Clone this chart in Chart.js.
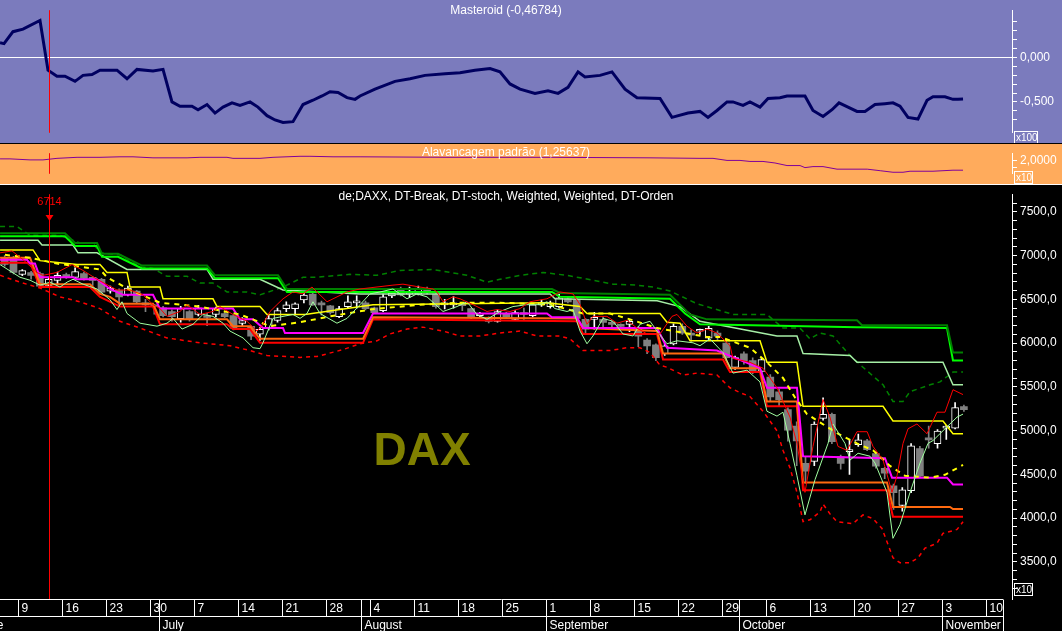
<!DOCTYPE html>
<html>
<head>
<meta charset="utf-8">
<script src="https://cdn.jsdelivr.net/npm/chart.js@4/dist/chart.umd.min.js"></script>
<style>
html, body { margin: 0; padding: 0; background: #000; }
#wrap { position: relative; width: 1062px; height: 631px; overflow: hidden; }
canvas { position: absolute; left: 0; }
</style>
</head>
<body>
<div id="wrap">
  <canvas id="topChart" width="1062" height="143" style="top:0"></canvas>
  <canvas id="levChart" width="1062" height="41" style="top:143px"></canvas>
  <canvas id="mainChart" width="1062" height="447" style="top:184px"></canvas>
</div>
<script>
// trading day index, 0 = Mon 9 June 2008
var firstDay = -2;
var opens  = [6970,6974,6784,6806,6795,6660,6717,6784,6750,6795,6750,6728,6594,6605,6549,6594,6460,6437,6404,6359,6280,6359,6326,6314,6326,6337,6314,6225,6191,6102,6169,6258,6393,6393,6494,6560,6460,6426,6303,6415,6460,6460,6404,6370,6538,6605,6560,6560,6605,6560,6437,6437,6437,6393,6314,6292,6247,6337,6270,6348,6314,6437,6415,6415,6505,6494,6270,6270,6270,6225,6214,6214,6158,6035,5979,5878,5990,6191,6100,6135,6057,6113,6001,5722,5878,5800,5677,5610,5442,5240,5050,4625,4648,5140,5185,4703,4759,4838,4883,4737,4569,4368,4144,4312,4793,4905,4849,5028,5028,5274];
var highs  = [7000,6990,6840,6820,6810,6750,6810,6800,6860,6810,6760,6740,6650,6620,6650,6600,6500,6440,6420,6380,6420,6370,6430,6340,6410,6350,6330,6290,6200,6180,6320,6400,6470,6460,6580,6570,6480,6430,6420,6540,6540,6480,6410,6560,6590,6640,6640,6650,6640,6580,6500,6530,6440,6400,6350,6300,6380,6350,6370,6400,6450,6490,6480,6560,6530,6510,6280,6350,6300,6250,6220,6270,6190,6050,5990,5990,6220,6220,6150,6160,6190,6140,6020,5850,5900,5830,5830,5640,5470,5260,5100,4700,5100,5375,5200,4720,4900,4960,4900,4750,4580,4390,4350,4850,4820,5050,5010,5060,5320,5290];
var lows   = [6880,6790,6770,6730,6640,6640,6670,6740,6730,6720,6660,6570,6570,6430,6540,6460,6360,6330,6300,6250,6240,6250,6310,6200,6300,6290,6150,6200,6040,6030,6150,6240,6360,6330,6460,6430,6320,6330,6290,6400,6400,6380,6340,6360,6520,6540,6520,6550,6560,6400,6390,6400,6370,6280,6300,6230,6240,6290,6260,6270,6300,6420,6400,6400,6460,6270,6120,6160,6180,6180,6170,6130,5960,5880,5800,5860,5980,6100,6020,6100,6040,6040,5800,5700,5760,5650,5640,5340,5280,4880,4600,4400,4600,5120,4850,4560,4500,4820,4770,4570,4450,4100,4080,4290,4460,4800,4800,4900,5020,5220];
var closes = [6900,6806,6828,6773,6650,6728,6773,6750,6817,6739,6717,6583,6627,6527,6627,6471,6437,6415,6314,6303,6393,6270,6404,6292,6393,6303,6169,6258,6079,6158,6281,6370,6437,6448,6549,6437,6437,6348,6393,6471,6471,6393,6348,6527,6571,6549,6583,6627,6594,6415,6460,6448,6426,6292,6337,6247,6359,6303,6348,6326,6437,6460,6460,6516,6471,6281,6158,6281,6236,6214,6191,6247,6079,5968,5834,5968,6191,6113,6090,6140,6169,6079,5834,5834,5800,5677,5811,5386,5352,5005,4883,4535,5073,5185,4872,4625,4782,4894,4782,4592,4513,4290,4323,4827,4480,4894,4994,5050,5262,5240];

// week ticks (Mondays) and month starts
var weekDays = [9,16,23,30,7,14,21,28,4,11,18,25,1,8,15,22,29,6,13,20,27,3,10];
var weekIdx  = [0,5,10,15,20,25,30,35,40,45,50,55,60,65,70,75,80,85,90,95,100,105,110];
var monthNames = ['June','July','August','September','October','November'];
var monthIdx   = [-5,16,39,60,82,105];

var markerDay = 3;
var markerValue = 6714;

// indicator lines [day, value]
var dkGreen = [[-2.53,7254],[4.85,7254],[5.99,7143],[8.49,7143],[9.06,7020],[10.88,7020],[13.6,6886],[20.99,6886],[21.9,6774],[29.06,6774],[30.08,6618],[60.19,6618],[61.1,6573],[73.6,6551],[75.88,6327],[77.81,6271],[94.85,6260],[95.42,6204],[105.08,6204],[105.76,5892],[106.9,5892]];
var brGreen = [[-2.53,7221],[4.85,7221],[5.99,7109],[8.49,7109],[9.06,6986],[10.88,6986],[13.6,6852],[20.99,6852],[21.9,6740],[29.06,6740],[30.08,6584],[60.19,6584],[61.1,6528],[73.6,6506],[75.31,6338],[77.01,6215],[94.85,6182],[105.08,6171],[105.76,5802],[106.9,5802]];
var paleStep = [[-2.53,7176],[1.78,7176],[2.24,7120],[5.76,7120],[6.33,7031],[8.49,7031],[11.9,6841],[20.99,6841],[21.67,6729],[27.01,6729],[29.63,6606],[38.38,6562],[59.97,6562],[60.53,6506],[72.13,6484],[74.74,6417],[77.01,6249],[85.76,6081],[88.03,6081],[88.72,5880],[94.06,5858],[94.85,5780],[104.62,5780],[105.76,5523],[106.9,5523]];
var yellowLine = [[-2.53,7064],[1.22,7064],[2.01,6942],[6.22,6897],[8.83,6897],[9.63,6807],[11.9,6807],[12.24,6640],[15.65,6640],[15.99,6506],[21.67,6506],[22.13,6417],[27.01,6417],[27.81,6327],[32.13,6327],[39.85,6439],[59.62,6461],[63.38,6417],[64.17,6338],[72.47,6338],[73.26,6238],[74.74,6227],[75.88,6026],[83.83,6026],[84.62,5780],[88.03,5780],[88.72,5277],[97.81,5277],[98.94,5110],[104.62,5110],[105.76,4964],[106.9,4964]];
var yellowDash = [[-1.97,7008],[0.88,6975],[3.94,6908],[8.83,6841],[9.63,6752],[12.24,6606],[15.65,6461],[20.19,6417],[24.74,6327],[28.15,6193],[31.56,6238],[34.97,6305],[39.51,6383],[45.19,6439],[49.74,6461],[54.28,6461],[59.97,6439],[63.72,6338],[66.78,6338],[69.06,6271],[72.13,6171],[77.81,6070],[79.28,6070],[82.69,5947],[84.62,5780],[86.44,5601],[87.81,5378],[89.17,5188],[92.69,4964],[94.85,4853],[96.67,4775],[98.6,4596],[100.31,4484],[103.15,4462],[104.85,4495],[106.9,4607]];
var magentaLine = [[-2.53,6953],[0.53,6953],[0.88,6908],[1.44,6908],[2.01,6752],[5.76,6752],[6.22,6729],[8.49,6729],[9.97,6618],[11.44,6551],[14.85,6551],[15.65,6394],[23.94,6394],[24.74,6271],[26.22,6271],[27.35,6171],[29.63,6171],[29.85,6115],[38.72,6115],[39.85,6338],[59.62,6338],[60.19,6294],[63.03,6294],[63.72,6171],[72.13,6171],[73.26,5947],[78.94,5914],[83.83,5713],[84.62,5489],[88.03,5489],[88.72,4707],[98.03,4685],[98.83,4462],[105.08,4462],[105.76,4384],[106.9,4384]];
var orangeStep = [[-2.53,6975],[0.88,6975],[2.01,6673],[7.69,6673],[8.83,6562],[9.97,6528],[11.1,6450],[14.85,6450],[15.65,6271],[23.26,6271],[23.94,6193],[25.88,6193],[27.01,6048],[38.72,6048],[39.85,6294],[63.03,6282],[63.72,6171],[72.13,6137],[72.81,5880],[79.62,5880],[80.42,5713],[83.83,5713],[84.62,5333],[88.03,5333],[88.72,4406],[98.26,4406],[98.94,4127],[105.42,4127],[105.76,4104],[106.9,4104]];
var redStep = [[-2.53,6919],[0.88,6919],[2.01,6640],[7.69,6640],[8.83,6528],[11.1,6417],[14.85,6417],[15.65,6215],[23.26,6215],[23.94,6160],[25.88,6160],[27.01,6003],[38.72,6003],[39.85,6271],[63.03,6249],[63.72,6104],[72.13,6104],[72.81,5813],[79.62,5813],[80.42,5668],[83.83,5668],[84.62,5277],[88.03,5277],[88.72,4317],[98.26,4317],[98.94,4015],[106.9,4015]];
var redThin = [[-2.53,7031],[-1.17,7053],[0.08,6953],[1.67,6807],[2.35,6774],[3.94,6807],[5.65,6897],[6.9,6830],[8.49,6729],[10.76,6606],[12.24,6606],[13.72,6551],[14.85,6439],[15.65,6394],[16.44,6305],[17.92,6361],[18.72,6439],[20.19,6327],[21.67,6361],[22.47,6417],[23.94,6327],[25.53,6249],[26.67,6137],[27.35,6215],[28.15,6361],[28.94,6439],[29.63,6506],[30.76,6584],[31.9,6562],[32.92,6640],[33.83,6551],[34.63,6472],[36.9,6584],[38.38,6618],[42.12,6662],[43.26,6673],[45.19,6640],[46.67,6618],[47.13,6584],[47.81,6472],[48.94,6528],[49.74,6506],[51.22,6439],[52.81,6361],[53.94,6383],[55.42,6361],[56.56,6394],[57.69,6472],[59.62,6506],[61.1,6584],[62.58,6562],[63.38,6439],[64.17,6215],[64.85,6305],[66.44,6305],[67.58,6227],[68.72,6260],[69.85,6171],[70.99,6104],[72.47,6104],[73.83,6305],[74.4,6327],[75.53,6193],[76.67,6115],[77.81,6160],[78.94,6115],[80.42,5970],[80.76,5824],[82.69,5780],[84.17,5713],[85.76,5489],[87.24,5154],[88.03,4853],[88.94,4294],[89.85,4819],[90.99,5355],[91.78,5154],[92.69,4819],[93.72,4775],[94.85,4987],[96.01,4987],[96.67,4819],[97.81,4663],[98.83,4294],[99.4,4484],[100.08,4853],[100.65,5020],[101.67,5076],[102.81,4964],[103.94,5210],[104.85,5210],[105.76,5467],[106.9,5411]];
var greenThin = [[-2.53,6897],[-0.26,6752],[0.88,6718],[2.01,6662],[3.15,6696],[4.28,6640],[5.08,6696],[5.76,6729],[6.9,6673],[8.49,6618],[9.97,6495],[10.76,6383],[11.33,6472],[11.9,6338],[13.38,6227],[15.31,6193],[16.44,6227],[17.13,6282],[18.15,6160],[19.4,6215],[20.53,6327],[21.67,6305],[22.81,6227],[23.6,6137],[25.08,6059],[26.22,5947],[27.01,5936],[27.35,6003],[28.49,6282],[30.76,6327],[31.56,6282],[32.35,6338],[33.03,6472],[33.83,6338],[35.76,6227],[36.9,6282],[38.38,6439],[39.51,6562],[40.65,6584],[42.12,6618],[43.72,6506],[44.85,6562],[45.99,6528],[47.81,6361],[49.4,6417],[50.53,6472],[51.67,6327],[52.81,6271],[54.28,6361],[55.76,6417],[57.35,6439],[58.83,6439],[59.62,6472],[60.53,6394],[61.9,6361],[62.58,6383],[63.38,6137],[64.17,5992],[64.85,6081],[65.99,6282],[67.13,6249],[68.26,6104],[69.4,6081],[70.19,6215],[71.33,6249],[72.13,6137],[73.26,5992],[74.4,6026],[76.22,6003],[77.01,5970],[78.15,6048],[79.62,5892],[80.76,5657],[82.35,5690],[83.83,5556],[84.62,5221],[85.76,5165],[86.44,5210],[87.24,4853],[88.03,4484],[88.94,4037],[90.08,4439],[91.56,4853],[92.12,5076],[93.49,4853],[94.06,4663],[94.97,4741],[96.33,4707],[96.9,4629],[98.26,4294],[98.94,3769],[99.74,3926],[100.88,4294],[102.01,4629],[102.92,4853],[103.49,4886],[105.08,5043],[106.22,5154],[106.9,5188]];
var redDash = [[-2.53,6774],[-0.26,6696],[2.01,6629],[4.28,6528],[6.56,6472],[8.83,6394],[11.1,6249],[13.38,6171],[16.44,6059],[20.19,6003],[23.6,5970],[25.88,5914],[27.81,5858],[31.56,5836],[33.49,5847],[36.44,5925],[38.38,5992],[40.31,6026],[41.78,6104],[43.72,6160],[45.53,6182],[47.81,6137],[49.74,6081],[52.01,6081],[54.28,6115],[56.56,6137],[58.49,6081],[61.1,6081],[62.24,6048],[63.72,5914],[66.78,5914],[68.72,5947],[70.19,5947],[71.33,5892],[72.47,5746],[73.26,5724],[75.08,5635],[76.67,5657],[78.94,5635],[80.42,5489],[81.56,5434],[82.69,5389],[84.17,5221],[85.76,4998],[86.44,4775],[87.24,4573],[88.03,4294],[88.72,3959],[89.51,3981],[90.65,4071],[90.99,4160],[91.78,4048],[92.58,3959],[94.4,3937],[95.53,4037],[96.67,3993],[97.69,3881],[98.94,3546],[99.74,3490],[100.88,3490],[101.78,3546],[102.58,3657],[103.94,3713],[104.62,3825],[106.22,3870],[106.9,3959]];
var greenDash = [[-2.53,7332],[-0.6,7332],[0.88,7232],[4.28,7232],[6.56,7143],[8.03,7143],[8.83,7031],[11.1,7008],[13.38,6874],[14.85,6852],[16.44,6763],[18.72,6763],[20.19,6685],[21.67,6685],[23.26,6584],[25.53,6584],[27.01,6551],[29.63,6640],[30.76,6696],[31.9,6752],[33.49,6752],[37.24,6785],[40.31,6774],[42.92,6830],[46.67,6841],[50.53,6774],[52.81,6696],[54.28,6729],[56.56,6774],[59.17,6807],[61.9,6774],[64.85,6718],[67.13,6673],[69.85,6662],[71.67,6640],[73.6,6595],[76.67,6450],[80.76,6327],[84.62,6327],[86.44,6171],[88.38,6171],[89.51,6048],[90.65,6115],[92.12,6081],[94.06,5858],[95.53,5724],[97.81,5523],[98.94,5333],[100.08,5333],[100.88,5445],[103.15,5523],[104.28,5556],[105.76,5668],[106.9,5668]];

// upper panels
var masteroid = [[-2.53,0.163],[-2.08,0.154],[-1.06,0.288],[0.08,0.317],[2.01,0.413],[2.92,-0.144],[3.94,-0.212],[4.85,-0.212],[5.99,-0.269],[6.9,-0.202],[7.92,-0.192],[8.83,-0.144],[10.76,-0.144],[11.9,-0.24],[13.03,-0.135],[14.85,-0.154],[15.99,-0.135],[17.01,-0.5],[17.92,-0.548],[19.28,-0.548],[19.97,-0.587],[20.99,-0.529],[21.9,-0.625],[22.81,-0.558],[23.83,-0.51],[24.74,-0.538],[25.88,-0.5],[26.78,-0.558],[27.81,-0.654],[28.72,-0.702],[29.63,-0.731],[30.76,-0.721],[31.9,-0.529],[33.03,-0.481],[34.06,-0.433],[34.97,-0.385],[35.88,-0.394],[36.9,-0.452],[37.81,-0.471],[38.38,-0.433],[40.08,-0.356],[42.35,-0.269],[44.06,-0.24],[45.76,-0.202],[48.03,-0.183],[49.74,-0.173],[51.44,-0.144],[53.15,-0.125],[54.28,-0.163],[55.42,-0.298],[56.56,-0.356],[58.26,-0.404],[59.74,-0.375],[60.88,-0.404],[62.01,-0.337],[63.15,-0.163],[63.94,-0.221],[65.65,-0.202],[67.01,-0.163],[68.49,-0.356],[69.85,-0.452],[72.47,-0.462],[73.83,-0.673],[75.65,-0.625],[77.01,-0.606],[77.92,-0.673],[78.94,-0.596],[80.08,-0.5],[80.76,-0.5],[81.9,-0.538],[82.69,-0.5],[83.83,-0.558],[84.74,-0.462],[86.1,-0.452],[86.9,-0.433],[88.94,-0.433],[89.85,-0.596],[90.99,-0.663],[92.01,-0.587],[92.81,-0.51],[93.83,-0.558],[94.85,-0.606],[95.76,-0.606],[96.9,-0.529],[98.03,-0.519],[98.94,-0.51],[99.74,-0.548],[100.65,-0.673],[101.78,-0.692],[102.81,-0.481],[103.49,-0.442],[104.85,-0.442],[105.76,-0.471],[106.33,-0.471],[106.9,-0.468]];
var leverage = [[-2.53,2.165],[-1.4,2.165],[0.88,2.083],[2.35,2.083],[3.94,2.207],[6.22,2.289],[8.83,2.289],[11.1,2.331],[12.58,2.331],[14.85,2.248],[18.72,2.248],[20.19,2.289],[23.26,2.289],[23.94,2.207],[27.01,2.207],[28.49,2.289],[31.56,2.372],[32.69,2.372],[35.31,2.331],[38.38,2.331],[48.6,2.289],[59.97,2.289],[71.33,2.248],[77.01,2.207],[78.49,2.207],[80.08,2.041],[81.56,2.041],[82.69,1.959],[84.17,1.959],[85.53,1.835],[86.9,1.628],[88.38,1.628],[88.94,1.463],[89.85,1.545],[90.99,1.545],[92.58,1.339],[96.01,1.339],[97.49,1.215],[98.94,1.091],[100.08,1.091],[100.88,1.174],[103.49,1.174],[105.76,1.256],[106.9,1.256]];

Chart.defaults.font.family = "'Liberation Sans', Arial, sans-serif";
Chart.defaults.font.size = 12;

var xMin = -2.534, xMax = 112.466, tickShift = -0.5;

function pts(a) {
  return a.map(function (p) { return {x: p[0], y: p[1]}; });
}

function line(data, color, width, dash) {
  return {type: 'line', data: pts(data), borderColor: color, borderWidth: width,
    borderDash: dash || [], pointRadius: 0, fill: false, order: 1};
}

function yAxis(min, max, step, fmt, zeroLine) {
  return {
    position: 'right', min: min, max: max,
    afterFit: function (s) { s.width = 50; },
    afterBuildTicks: function (s) {
      s.ticks = s.ticks.filter(function (t) {
        var r = t.value / step;
        return Math.abs(r - Math.round(r)) < 1e-6;
      });
    },
    border: {color: '#fff'},
    grid: {
      drawOnChartArea: !!zeroLine, tickColor: '#fff', tickLength: 5,
      color: function (c) { return c.tick && Math.abs(c.tick.value) < 1e-9 ? '#fff' : 'rgba(0,0,0,0)'; }
    },
    ticks: {stepSize: step, color: '#fff', padding: 3, autoSkip: false, callback: fmt}
  };
}

function panel(color, edge) {
  return {
    id: 'panel',
    beforeDraw: function (c) {
      var g = c.ctx;
      g.save();
      g.fillStyle = color;
      g.fillRect(0, 0, c.width, c.height);
      if (edge) { g.fillStyle = edge; g.fillRect(0, 0, c.width, 1); }
      g.restore();
    }
  };
}

function overlay(caption, captionY, boxText, boxTop, boxW) {
  return {
    id: 'overlay',
    afterDraw: function (c) {
      var g = c.ctx, a = c.chartArea;
      g.save();
      g.fillStyle = '#fff';
      g.font = "12px 'Liberation Sans', Arial, sans-serif";
      g.textAlign = 'center';
      g.fillText(caption, (a.left + a.right) / 2, captionY);
      // scale box
      g.strokeStyle = '#fff';
      g.lineWidth = 1;
      g.strokeRect(a.right + 2.5, boxTop + 0.5, boxW, 12);
      g.font = "10px 'Liberation Sans', Arial, sans-serif";
      g.textAlign = 'left';
      g.fillText(boxText, a.right + 4, boxTop + 10);
      // marker line
      var mx = Math.round(c.scales.x.getPixelForValue(markerDay)) + 0.5;
      g.strokeStyle = '#ff0000';
      g.beginPath();
      g.moveTo(mx, a.top);
      g.lineTo(mx, a.bottom);
      g.stroke();
      g.restore();
    }
  };
}

// top: Masteroid
new Chart(document.getElementById('topChart'), {
  type: 'line',
  data: {datasets: [line(masteroid, '#000060', 3)]},
  options: {
    responsive: false, animation: false, devicePixelRatio: 1,
    layout: {padding: 0},
    plugins: {legend: {display: false}, tooltip: {enabled: false}},
    scales: {
      x: {type: 'linear', min: xMin, max: xMax, display: false},
      y: yAxis(-0.846, 0.5288, 0.1, function (v) {
        var r = Math.round(v * 1000) / 1000;
        return (r === 0 || r === -0.5) ? r.toFixed(3).replace('.', ',') : '';
      }, true)
    }
  },
  plugins: [panel('#7b7bbd'), overlay('Masteroid (-0,46784)', 14, 'x100', 131, 23)]
});

// middle: leverage
new Chart(document.getElementById('levChart'), {
  type: 'line',
  data: {datasets: [line(leverage, '#80009a', 1)]},
  options: {
    responsive: false, animation: false, devicePixelRatio: 1,
    layout: {padding: {top: 1}},
    plugins: {legend: {display: false}, tooltip: {enabled: false}},
    scales: {
      x: {type: 'linear', min: xMin, max: xMax, display: false},
      y: yAxis(0.967, 2.62, 0.5, function (v) {
        return Math.abs(v - 2) < 1e-6 ? '2,0000' : '';
      })
    }
  },
  plugins: [panel('#ffab5c', '#000'), overlay('Alavancagem padrão (1,25637)', 13, 'x10', 28, 18)]
});

// main: DAX candles and indicators
var upBodies = [], downBodies = [], upWicks = [], downWicks = [];
opens.forEach(function (o, k) {
  var d = firstDay + k, up = closes[k] >= o;
  (up ? upBodies : downBodies).push({x: d, y: [o, closes[k]]});
  (up ? upWicks : downWicks).push({x: d, y: [lows[k], highs[k]]});
});

function bars(data, fill, border, width, thick, order) {
  return {type: 'bar', data: data, backgroundColor: fill, borderColor: border,
    borderWidth: width, borderSkipped: false, barThickness: thick, minBarLength: 2,
    grouped: false, order: order};
}

var dateAxis = {
  id: 'dateAxis',
  afterDraw: function (c) {
    var g = c.ctx, a = c.chartArea, x = c.scales.x;
    var top = a.bottom + 0.5, mid = a.bottom + 17.5, bot = c.height, right = a.right - 9;
    g.save();
    g.strokeStyle = '#fff';
    g.fillStyle = '#fff';
    g.lineWidth = 1;
    g.font = "12px 'Liberation Sans', Arial, sans-serif";
    g.textAlign = 'left';
    g.beginPath();
    g.moveTo(0, top); g.lineTo(right, top);
    g.moveTo(0, mid); g.lineTo(right, mid);
    g.moveTo(right + 0.5, top); g.lineTo(right + 0.5, bot);
    weekIdx.forEach(function (d, k) {
      var px = Math.round(x.getPixelForValue(d + tickShift)) + 0.5;
      if (px > right) return;
      g.moveTo(px, top); g.lineTo(px, mid);
      g.fillText(String(weekDays[k]), px + 3, top + 12);
    });
    monthIdx.forEach(function (d, k) {
      var px = Math.round(x.getPixelForValue(d + tickShift)) + 0.5;
      g.moveTo(px, top); g.lineTo(px, bot);
      g.fillText(monthNames[k], px + 3, mid + 12);
    });
    g.stroke();
    // marker label
    var mx = Math.round(x.getPixelForValue(markerDay)) + 0.5;
    var my = c.scales.y.getPixelForValue(markerValue);
    g.fillStyle = '#ff0000';
    g.strokeStyle = '#ff0000';
    g.font = "11px 'Liberation Sans', Arial, sans-serif";
    g.textAlign = 'center';
    g.fillText(String(markerValue), mx, 21);
    g.beginPath();
    g.moveTo(mx, 26); g.lineTo(mx, 33);
    g.stroke();
    g.beginPath();
    g.moveTo(mx - 4, 31); g.lineTo(mx + 4, 31); g.lineTo(mx, 37);
    g.closePath();
    g.fill();
    g.restore();
  },
  beforeDatasetsDraw: function (c) {
    var g = c.ctx;
    g.save();
    g.fillStyle = '#808000';
    g.font = "bold 46px 'Liberation Sans', Arial, sans-serif";
    g.textAlign = 'center';
    g.fillText('DAX', 422, 281);
    g.restore();
  }
};

new Chart(document.getElementById('mainChart'), {
  type: 'line',
  data: {
    datasets: [
      line(redThin, '#ff0000', 1),
      line(greenThin, '#a0ffa0', 1),
      line(dkGreen, '#008000', 2),
      line(brGreen, '#00ff00', 2),
      line(paleStep, '#a6eea6', 1.5),
      line(yellowLine, '#ffff00', 1.5),
      line(yellowDash, '#ffff00', 2, [5, 5]),
      line(magentaLine, '#ff00ff', 2),
      line(orangeStep, '#ff6a10', 2),
      line(redStep, '#ff0000', 2),
      line(redDash, '#ff0000', 1.5, [4, 4]),
      line(greenDash, '#008000', 1.5, [5, 4]),
      bars(upBodies, '#000', '#fff', 1, 7, 5),
      bars(downBodies, '#808080', '#808080', 0, 7, 5),
      bars(upWicks, '#fff', '#fff', 0, 1, 6),
      bars(downWicks, '#808080', '#808080', 0, 1, 6)
    ]
  },
  options: {
    responsive: false, animation: false, devicePixelRatio: 1,
    layout: {padding: {top: 1, bottom: 32}},
    plugins: {legend: {display: false}, tooltip: {enabled: false}},
    scales: {
      x: {type: 'linear', min: xMin, max: xMax, display: false, offset: false},
      y: yAxis(3075.4, 7701.1, 100, function (v) {
        var r = Math.round(v);
        return r % 500 === 0 ? r.toFixed(1).replace('.', ',') : '';
      })
    }
  },
  plugins: [panel('#000', '#fff'), overlay('de;DAXX, DT-Break, DT-stoch, Weighted, Weighted, DT-Orden', 16, 'x10', 399, 18), dateAxis]
});
</script>
</body>
</html>
